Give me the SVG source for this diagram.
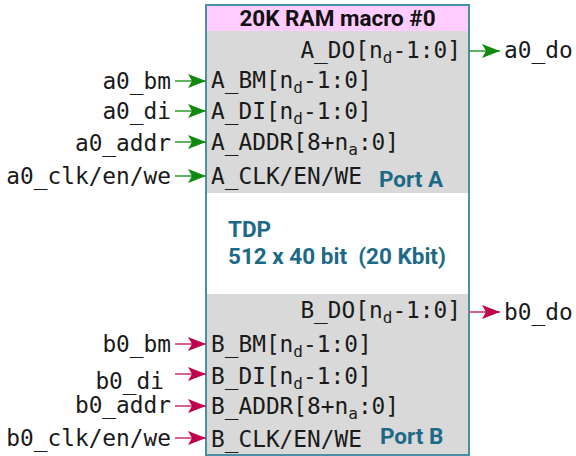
<svg xmlns="http://www.w3.org/2000/svg" width="576" height="456" viewBox="0 0 576 456">
<defs>
<style>
.mono{font-family:"DejaVu Sans Mono","Liberation Mono",monospace;font-size:22.8px;fill:#1a1a1a}
.sub{font-size:16px}
.teal{font-family:Roboto,"Liberation Sans",sans-serif;font-weight:bold;font-size:22.5px;fill:#1d6a86}
.title{font-family:Roboto,"Liberation Sans",sans-serif;font-weight:bold;font-size:22.5px;fill:#111}
.ga{stroke:#2a9a2a;stroke-width:1.5;fill:none}
.ra{stroke:#c8306a;stroke-width:1.5;fill:none}
</style>
<marker id="hg" viewBox="0 0 18 14" refX="18" refY="7" markerWidth="18" markerHeight="14" markerUnits="userSpaceOnUse" orient="auto">
<path d="M0,0 L18,7 L0,14 L4,7 Z" fill="#0f8a0f"/>
</marker>
<marker id="hr" viewBox="0 0 18 14" refX="18" refY="7" markerWidth="18" markerHeight="14" markerUnits="userSpaceOnUse" orient="auto">
<path d="M0,0 L18,7 L0,14 L4,7 Z" fill="#c0004c"/>
</marker>
</defs>
<rect width="576" height="456" fill="#fff"/>
<g id="ram">
<rect x="206" y="5" width="263" height="450" fill="#fff"/>
<rect x="206" y="5" width="263" height="26" fill="#ffccff"/>
<rect x="206" y="31" width="263" height="162" fill="#d9d9d9"/>
<rect x="206" y="294" width="263" height="161" fill="#d9d9d9"/>
<rect x="206" y="5" width="263" height="450" fill="none" stroke="#4a90a4" stroke-width="2"/>
<text class="title" x="337.5" y="26" text-anchor="middle">20K RAM macro #0</text>
<text class="mono" x="461" y="58" text-anchor="end">A_DO[n<tspan class="sub" dy="5">d</tspan><tspan dy="-5">-1:0]</tspan></text>
<text class="mono" x="211" y="88">A_BM[n<tspan class="sub" dy="5">d</tspan><tspan dy="-5">-1:0]</tspan></text>
<text class="mono" x="211" y="119">A_DI[n<tspan class="sub" dy="5">d</tspan><tspan dy="-5">-1:0]</tspan></text>
<text class="mono" x="211" y="150">A_ADDR[8+n<tspan class="sub" dy="5">a</tspan><tspan dy="-5">:0]</tspan></text>
<text class="mono" x="211" y="184">A_CLK/EN/WE</text>
<text class="teal" x="379" y="187">Port A</text>
<text class="teal" x="228" y="237">TDP</text>
<text class="teal" x="228" y="264" xml:space="preserve">512 x 40 bit  (20 Kbit)</text>
<text class="mono" x="461" y="318" text-anchor="end">B_DO[n<tspan class="sub" dy="5">d</tspan><tspan dy="-5">-1:0]</tspan></text>
<text class="mono" x="211" y="352">B_BM[n<tspan class="sub" dy="5">d</tspan><tspan dy="-5">-1:0]</tspan></text>
<text class="mono" x="211" y="384">B_DI[n<tspan class="sub" dy="5">d</tspan><tspan dy="-5">-1:0]</tspan></text>
<text class="mono" x="211" y="414">B_ADDR[8+n<tspan class="sub" dy="5">a</tspan><tspan dy="-5">:0]</tspan></text>
<text class="mono" x="211" y="447">B_CLK/EN/WE</text>
<text class="teal" x="380" y="444">Port B</text>
</g>
<g id="labels">
<text class="mono" x="171" y="89" text-anchor="end">a0_bm</text>
<text class="mono" x="171" y="119" text-anchor="end">a0_di</text>
<text class="mono" x="171" y="151" text-anchor="end">a0_addr</text>
<text class="mono" x="171" y="184" text-anchor="end">a0_clk/en/we</text>
<text class="mono" x="504" y="58">a0_do</text>
<text class="mono" x="171" y="352" text-anchor="end">b0_bm</text>
<text class="mono" x="164" y="389" text-anchor="end">b0_di</text>
<text class="mono" x="171" y="413" text-anchor="end">b0_addr</text>
<text class="mono" x="171" y="446" text-anchor="end">b0_clk/en/we</text>
<text class="mono" x="504" y="320">b0_do</text>
</g>
<g id="connectors">
<line class="ga" x1="175" y1="81" x2="206" y2="81" marker-end="url(#hg)"/>
<line class="ga" x1="175" y1="111" x2="206" y2="111" marker-end="url(#hg)"/>
<line class="ga" x1="175" y1="142" x2="206" y2="142" marker-end="url(#hg)"/>
<line class="ga" x1="175" y1="176" x2="206" y2="176" marker-end="url(#hg)"/>
<line class="ga" x1="469" y1="51" x2="500" y2="51" marker-end="url(#hg)"/>
<line class="ra" x1="175" y1="344" x2="206" y2="344" marker-end="url(#hr)"/>
<line class="ra" x1="175" y1="374" x2="206" y2="374" marker-end="url(#hr)"/>
<line class="ra" x1="175" y1="406" x2="206" y2="406" marker-end="url(#hr)"/>
<line class="ra" x1="175" y1="438" x2="206" y2="438" marker-end="url(#hr)"/>
<line class="ra" x1="469" y1="312" x2="500" y2="312" marker-end="url(#hr)"/>
</g>
</svg>
